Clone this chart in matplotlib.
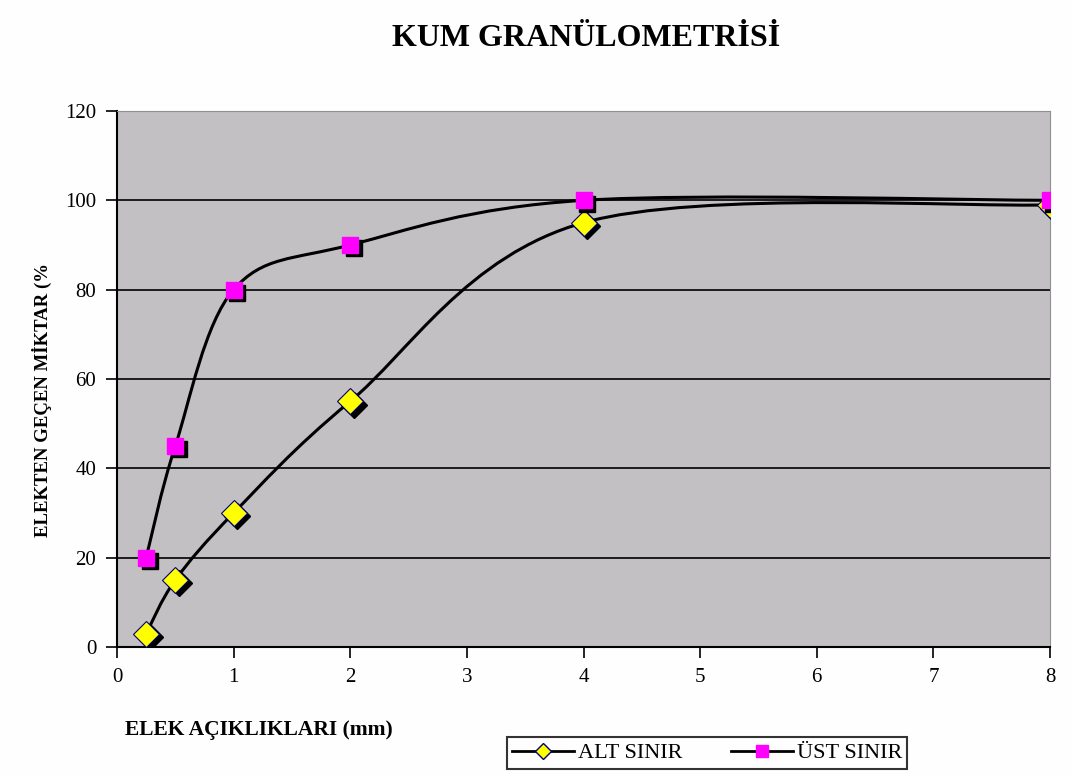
import matplotlib
matplotlib.use("Agg")
import matplotlib.pyplot as plt
from matplotlib.path import Path
from matplotlib.patches import PathPatch
from matplotlib.lines import Line2D
import matplotlib.transforms as mtransforms

# veriler
elek = [0.25, 0.5, 1, 2, 4, 8]
alt_sinir = [3, 15, 30, 55, 95, 99]
ust_sinir = [20, 45, 80, 90, 100, 100]

plt.rcParams['font.family'] = ['Liberation Serif', 'DejaVu Serif']


def yumusak_yol(xs, ys):
    # Excel tarzi yumusatilmis cizgi (Bezier kontrol noktalari)
    pts = list(zip(xs, ys))
    verts = [pts[0]]
    codes = [Path.MOVETO]
    n = len(pts)
    for i in range(n - 1):
        p0 = pts[i - 1] if i > 0 else pts[i]
        p1 = pts[i]
        p2 = pts[i + 1]
        p3 = pts[i + 2] if i + 2 < n else pts[i + 1]
        c1 = (p1[0] + (p2[0] - p0[0]) / 6, p1[1] + (p2[1] - p0[1]) / 6)
        c2 = (p2[0] - (p3[0] - p1[0]) / 6, p2[1] - (p3[1] - p1[1]) / 6)
        verts += [c1, c2, p2]
        codes += [Path.CURVE4] * 3
    return Path(verts, codes)


fig = plt.figure(figsize=(10.73, 7.76), dpi=100)
ax = fig.add_axes([117 / 1073, 1 - 647 / 776, (1050 - 117) / 1073, (647 - 111) / 776])
ax.set_facecolor('#C3C0C3')

ax.set_xlim(0, 8)
ax.set_ylim(0, 120)
ax.set_xticks(range(0, 9))
ax.set_yticks(range(0, 121, 20))
ax.yaxis.grid(True, color='black', linewidth=1.2)
ax.set_axisbelow(True)
ax.tick_params(axis='both', direction='out', length=8, width=1.2, labelsize=15, pad=7)
for s in ['left', 'bottom']:
    ax.spines[s].set_linewidth(1.5)
for s in ['top', 'right']:
    ax.spines[s].set_color('#909090')

for ys in [ust_sinir, alt_sinir]:
    ax.add_patch(PathPatch(yumusak_yol(elek, ys), facecolor='none',
                           edgecolor='black', linewidth=2.2, zorder=3))

# golge + isaretler (once ALT, sonra UST)
golge = mtransforms.offset_copy(ax.transData, fig=fig, x=2.5, y=-2.5, units='points')
ax.plot(elek, alt_sinir, 'D', color='black', markersize=13, transform=golge, zorder=4)
ax.plot(elek, alt_sinir, 'D', markerfacecolor='#FFFF00', markeredgecolor='#000080',
        markeredgewidth=0.8, markersize=13, linestyle='none', zorder=5)
ax.plot(elek, ust_sinir, 's', color='black', markersize=12, transform=golge, zorder=6)
ax.plot(elek, ust_sinir, 's', markerfacecolor='#FF00FF', markeredgecolor='#FF00FF',
        markersize=12, linestyle='none', zorder=7)

fig.text(586 / 1073, 1 - 38 / 776, 'KUM GRANÜLOMETRİSİ', ha='center', va='center',
         fontsize=23, fontweight='bold')
fig.text(42 / 1073, 1 - 400 / 776, 'ELEKTEN GEÇEN MİKTAR (%', rotation=90,
         ha='center', va='center', fontsize=13.5, fontweight='bold')
fig.text(125 / 1073, 1 - 730 / 776, 'ELEK AÇIKLIKLARI (mm)', ha='left', va='center',
         fontsize=15.5, fontweight='bold')

h1 = Line2D([], [], color='black', linewidth=2, marker='D', markerfacecolor='#FFFF00',
            markeredgecolor='#000080', markersize=8)
h2 = Line2D([], [], color='black', linewidth=2, marker='s', markerfacecolor='#FF00FF',
            markeredgecolor='#FF00FF', markersize=8)
leg = fig.legend([h1, h2], ['ALT SINIR', 'ÜST SINIR'], loc='center',
                 bbox_to_anchor=(707 / 1073, 1 - 753 / 776), ncol=2, fontsize=16,
                 frameon=True, fancybox=False, edgecolor='black', handlelength=2.8,
                 handletextpad=0.15, columnspacing=2.2, borderpad=0.25)
leg.get_frame().set_linewidth(1.5)

fig.savefig('out.png', dpi=100, facecolor='#FEFEFE')
